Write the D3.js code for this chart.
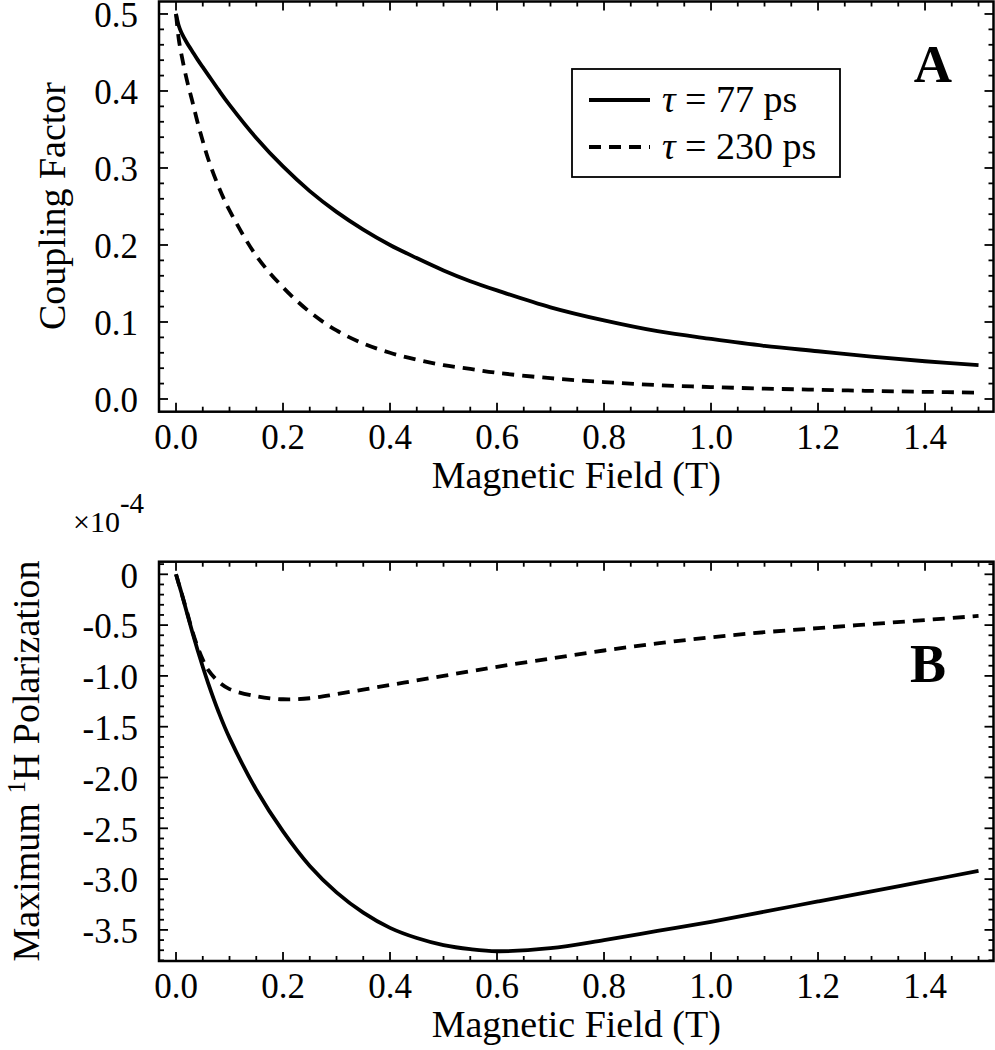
<!DOCTYPE html>
<html>
<head>
<meta charset="utf-8">
<script src="https://cdn.jsdelivr.net/npm/d3@7"></script>
<style>
  html, body { margin: 0; padding: 0; background: #fff; }
  svg { display: block; }
  text { font-family: "Liberation Serif", "Times New Roman", serif; fill: #000; }
</style>
</head>
<body>
<svg id="chart" width="995" height="1050"></svg>
<script>
// ---------------- data ----------------
const fieldT = [0, 0.005, 0.01, 0.02, 0.03, 0.04, 0.05, 0.06, 0.08, 0.1, 0.15, 0.2, 0.25, 0.3, 0.35, 0.4, 0.45, 0.5, 0.55, 0.6, 0.7, 0.8, 0.9, 1.0, 1.1, 1.2, 1.3, 1.4, 1.5];
const coupling77  = [0.5, 0.485, 0.476, 0.463, 0.452, 0.441, 0.431, 0.421, 0.401, 0.382, 0.339, 0.302, 0.270, 0.243, 0.220, 0.200, 0.183, 0.167, 0.153, 0.141, 0.119, 0.102, 0.088, 0.078, 0.069, 0.062, 0.055, 0.049, 0.044];
const coupling230 = [0.5, 0.468, 0.448, 0.415, 0.388, 0.360, 0.335, 0.312, 0.275, 0.245, 0.186, 0.145, 0.113, 0.089, 0.072, 0.060, 0.051, 0.044, 0.039, 0.034, 0.027, 0.022, 0.018, 0.0155, 0.0135, 0.012, 0.0105, 0.0093, 0.0083];
const polar77  = [0, -0.09, -0.18, -0.37, -0.56, -0.74, -0.91, -1.07, -1.36, -1.61, -2.12, -2.53, -2.87, -3.13, -3.33, -3.48, -3.58, -3.65, -3.69, -3.71, -3.68, -3.60, -3.51, -3.42, -3.32, -3.22, -3.12, -3.02, -2.92];
const polar230 = [0, -0.09, -0.18, -0.36, -0.55, -0.71, -0.84, -0.94, -1.06, -1.13, -1.20, -1.23, -1.22, -1.18, -1.135, -1.09, -1.045, -1.00, -0.955, -0.91, -0.83, -0.75, -0.68, -0.62, -0.57, -0.53, -0.49, -0.45, -0.41];

const xTicks = [0.0, 0.2, 0.4, 0.6, 0.8, 1.0, 1.2, 1.4];
const xTickLabels = ["0.0", "0.2", "0.4", "0.6", "0.8", "1.0", "1.2", "1.4"];
const yTicksA = [0.0, 0.1, 0.2, 0.3, 0.4, 0.5];
const yTickLabelsA = ["0.0", "0.1", "0.2", "0.3", "0.4", "0.5"];
const yTicksB = [0, -0.5, -1.0, -1.5, -2.0, -2.5, -3.0, -3.5];
const yTickLabelsB = ["0", "-0.5", "-1.0", "-1.5", "-2.0", "-2.5", "-3.0", "-3.5"];
const seriesNames = ["\u03C4 = 77 ps", "\u03C4 = 230 ps"];

// ---------------- drawing ----------------
const svg = d3.select("#chart");
const left = 159, right = 993.5;
const x = d3.scaleLinear().domain([-0.0318, 1.528]).range([left, right]);

const panels = [
  { top: 1.5, bottom: 411.7, ydom: [-0.0165, 0.5162], ys: [coupling77, coupling230],
    major: yTicksA, majorLabels: yTickLabelsA, minorStep: 0.02, majStep: 0.1, letter: "A", letterX: 933, letterY: 82, letterSize: 53 },
  { top: 561.7, bottom: 961, ydom: [-3.806, 0.124], ys: [polar77, polar230],
    major: yTicksB, majorLabels: yTickLabelsB, minorStep: 0.1, majStep: 0.5, letter: "B", letterX: 928, letterY: 682, letterSize: 54 }
];

const majorLen = 9, minorLen = 5;
const curveW = 3.8, dash = "12,8";
const line = (ys, y) => d3.line().x((d, i) => x(fieldT[i])).y(d => y(d)).curve(d3.curveCatmullRom.alpha(0.5))(ys);

panels.forEach(p => {
  const y = d3.scaleLinear().domain(p.ydom).range([p.bottom, p.top]);
  const g = svg.append("g");

  // curves
  g.append("path").attr("d", line(p.ys[0], y)).attr("fill", "none").attr("stroke", "#000").attr("stroke-width", curveW);
  g.append("path").attr("d", line(p.ys[1], y)).attr("fill", "none").attr("stroke", "#000").attr("stroke-width", curveW)
    .attr("stroke-dasharray", dash);

  // x ticks (bottom & top, inward)
  const [x0, x1] = x.domain();
  const xMinor = d3.range(Math.ceil(x0 / 0.05), Math.floor(x1 / 0.05) + 1).map(k => +(k * 0.05).toFixed(3));
  xMinor.forEach(v => {
    const isMajor = Math.abs(Math.round(v / 0.2) * 0.2 - v) < 1e-6;
    const len = isMajor ? majorLen : minorLen;
    g.append("line").attr("x1", x(v)).attr("x2", x(v)).attr("y1", p.bottom).attr("y2", p.bottom - len)
      .attr("stroke", "#000").attr("stroke-width", 1.8);
    g.append("line").attr("x1", x(v)).attr("x2", x(v)).attr("y1", p.top).attr("y2", p.top + len)
      .attr("stroke", "#000").attr("stroke-width", 1.8);
  });
  xTicks.forEach((v, i) => {
    g.append("text").attr("x", x(v)).attr("y", p.bottom + 37).attr("text-anchor", "middle")
      .attr("font-size", 35).text(xTickLabels[i]);
  });

  // y ticks (left & right, inward)
  const [y0, y1] = y.domain();
  const step = p.minorStep;
  const yMinor = d3.range(Math.ceil(y0 / step), Math.floor(y1 / step) + 1).map(k => +(k * step).toFixed(3));
  yMinor.forEach(v => {
    const isMajor = Math.abs(Math.round(v / p.majStep) * p.majStep - v) < 1e-6;
    const len = isMajor ? majorLen : minorLen;
    g.append("line").attr("x1", left).attr("x2", left + len).attr("y1", y(v)).attr("y2", y(v))
      .attr("stroke", "#000").attr("stroke-width", 1.8);
    g.append("line").attr("x1", right).attr("x2", right - len).attr("y1", y(v)).attr("y2", y(v))
      .attr("stroke", "#000").attr("stroke-width", 1.8);
  });
  p.major.forEach((v, i) => {
    g.append("text").attr("x", 138).attr("y", y(v)).attr("dy", "0.38em").attr("text-anchor", "end")
      .attr("font-size", 35).text(p.majorLabels[i]);
  });

  // frame
  g.append("rect").attr("x", left).attr("y", p.top).attr("width", right - left).attr("height", p.bottom - p.top)
    .attr("fill", "none").attr("stroke", "#000").attr("stroke-width", 2.5);

  // x axis title
  g.append("text").attr("x", (left + right) / 2).attr("y", p.bottom + 76).attr("text-anchor", "middle")
    .attr("font-size", 38).text("Magnetic Field (T)");

  // panel letter
  g.append("text").attr("x", p.letterX).attr("y", p.letterY).attr("text-anchor", "middle")
    .attr("font-size", p.letterSize).attr("font-weight", "bold").text(p.letter);
});

// y axis titles
svg.append("text").attr("transform", "translate(65,206) rotate(-90)").attr("text-anchor", "middle")
  .attr("font-size", 38).text("Coupling Factor");
const t2 = svg.append("text").attr("transform", "translate(39,761) rotate(-90)").attr("text-anchor", "middle")
  .attr("font-size", 38);
t2.append("tspan").text("Maximum ");
t2.append("tspan").attr("font-size", 25).attr("dy", -14).text("1");
t2.append("tspan").attr("dy", 14).text("H Polarization");

// exponent label
const ex = svg.append("text").attr("x", 73).attr("y", 532).attr("font-size", 30);
ex.append("tspan").text("\u00D710");
ex.append("tspan").attr("dy", -19).attr("font-size", 29).text("-4");

// legend
const lg = svg.append("g");
lg.append("rect").attr("x", 572).attr("y", 69).attr("width", 268).attr("height", 108)
  .attr("fill", "#fff").attr("stroke", "#000").attr("stroke-width", 1.8);
const legY = [100, 147];
seriesNames.forEach((name, i) => {
  lg.append("line").attr("x1", 589).attr("x2", 650).attr("y1", legY[i]).attr("y2", legY[i])
    .attr("stroke", "#000").attr("stroke-width", curveW).attr("stroke-dasharray", i === 1 ? dash : null);
  const t = lg.append("text").attr("x", 662).attr("y", legY[i] + 12).attr("font-size", 38);
  t.append("tspan").attr("font-style", "italic").text(name.slice(0, 1));
  t.append("tspan").text(name.slice(1));
});
</script>
</body>
</html>
